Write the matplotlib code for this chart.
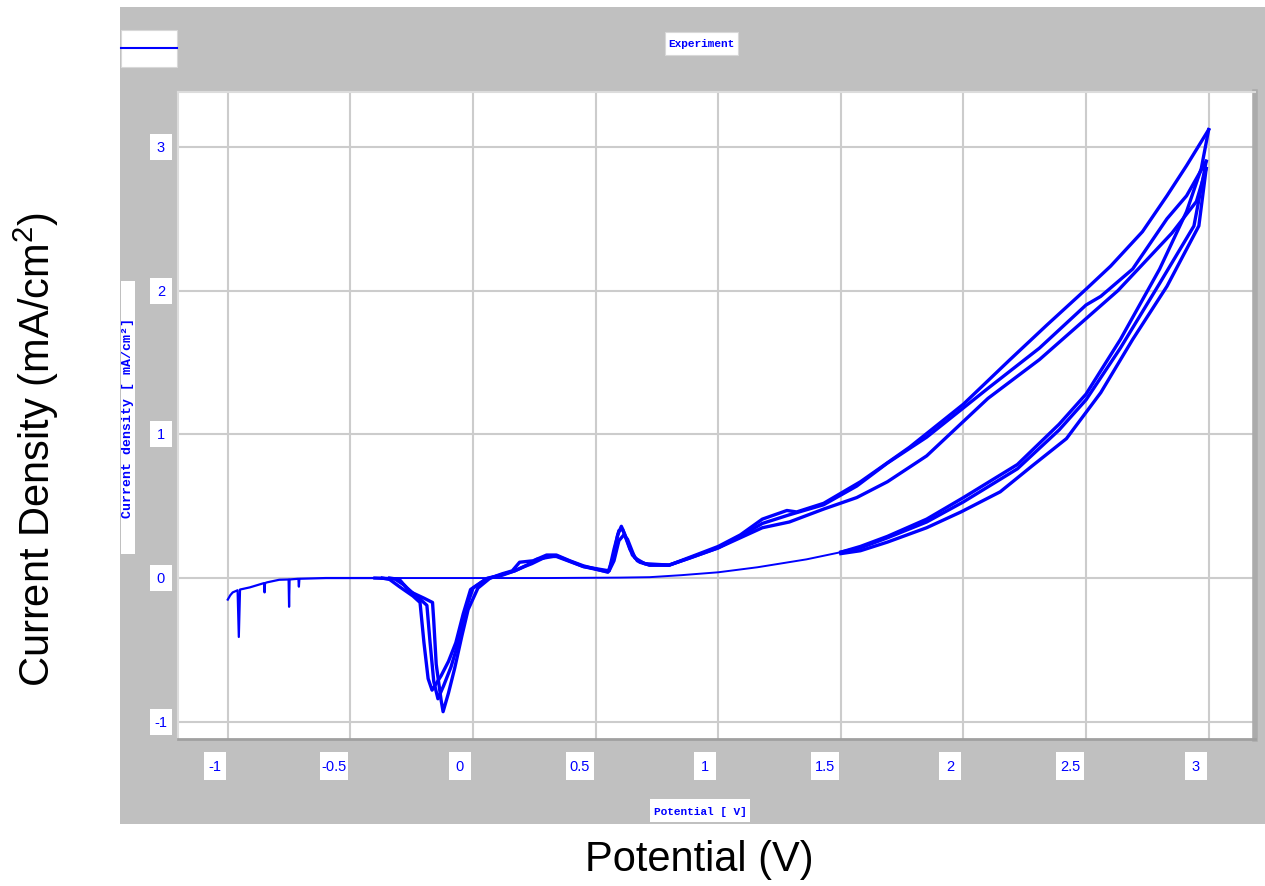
import matplotlib
matplotlib.use("Agg")
import matplotlib.pyplot as plt
from matplotlib.patches import Rectangle

plt.rcParams["mathtext.fontset"] = "custom"
plt.rcParams["mathtext.rm"] = "Liberation Sans"
plt.rcParams["mathtext.default"] = "regular"

# --- data (potential V, current density mA/cm2) ---
x_ticks = [-1, -0.5, 0, 0.5, 1, 1.5, 2, 2.5, 3]
x_labels = ["-1", "-0.5", "0", "0.5", "1", "1.5", "2", "2.5", "3"]
y_ticks = [-1, 0, 1, 2, 3]
y_labels = ["-1", "0", "1", "2", "3"]

# lead-in at the negative end (with the small spikes)
lead_v = [-1.00, -0.99, -0.98, -0.96, -0.955, -0.95, -0.91, -0.852, -0.85, -0.848,
          -0.84, -0.79, -0.752, -0.75, -0.748, -0.712, -0.71, -0.708, -0.60, -0.50, -0.37]
lead_i = [-0.15, -0.12, -0.10, -0.085, -0.41, -0.08, -0.065, -0.035, -0.10, -0.035,
          -0.03, -0.012, -0.01, -0.20, -0.01, -0.005, -0.06, -0.005, 0.0, 0.0, 0.0]

# forward scan, common flat part
fwd_v = [-0.37, 0.30, 0.60, 0.72, 0.85, 1.00, 1.16, 1.36, 1.50]
fwd_i = [0.0, 0.0, 0.003, 0.006, 0.02, 0.04, 0.075, 0.13, 0.18]

# forward scan tails, three cycles
f1_v = [1.50, 1.58, 1.69, 1.85, 2.00, 2.22, 2.39, 2.50, 2.64, 2.80, 2.91, 2.97, 3.00]
f1_i = [0.18, 0.22, 0.29, 0.41, 0.56, 0.79, 1.07, 1.28, 1.66, 2.15, 2.55, 2.85, 3.12]
f2_v = [1.50, 1.58, 1.69, 1.85, 2.00, 2.22, 2.39, 2.50, 2.64, 2.80, 2.94, 2.99]
f2_i = [0.18, 0.21, 0.28, 0.39, 0.53, 0.76, 1.03, 1.24, 1.60, 2.05, 2.45, 2.90]
f3_v = [1.50, 1.58, 1.69, 1.85, 1.99, 2.15, 2.28, 2.42, 2.56, 2.69, 2.83, 2.96, 2.99]
f3_i = [0.17, 0.19, 0.25, 0.35, 0.46, 0.60, 0.78, 0.97, 1.29, 1.66, 2.03, 2.45, 2.85]

# reverse scans, three cycles
c1_v = [3.00, 2.91, 2.83, 2.73, 2.60, 2.50, 2.34, 2.19, 2.00, 1.78, 1.58, 1.43, 1.32,
        1.28, 1.18, 1.09, 1.00, 0.885, 0.80, 0.72, 0.68, 0.65, 0.62, 0.605, 0.59,
        0.57, 0.55, 0.53, 0.45, 0.395, 0.34, 0.30, 0.245, 0.19, 0.16, 0.12, 0.07,
        0.02, -0.02, -0.045, -0.075, -0.10, -0.122, -0.13, -0.15, -0.16, -0.165,
        -0.20, -0.25, -0.28, -0.32, -0.40]
c1_i = [3.12, 2.87, 2.66, 2.41, 2.17, 2.01, 1.76, 1.52, 1.21, 0.91, 0.67, 0.52, 0.46,
        0.47, 0.41, 0.30, 0.22, 0.145, 0.09, 0.09, 0.11, 0.16, 0.30, 0.36, 0.30,
        0.13, 0.04, 0.05, 0.085, 0.12, 0.16, 0.16, 0.12, 0.11, 0.05, 0.03, 0.0,
        -0.07, -0.22, -0.40, -0.63, -0.80, -0.93, -0.85, -0.60, -0.30, -0.17,
        -0.14, -0.10, -0.05, -0.005, 0.0]
c2_v = [2.99, 2.91, 2.83, 2.69, 2.56, 2.50, 2.31, 2.10, 1.85, 1.69, 1.565, 1.43, 1.29,
        1.18, 1.09, 1.00, 0.885, 0.80, 0.72, 0.67, 0.64, 0.61, 0.595, 0.575, 0.555,
        0.53, 0.45, 0.34, 0.30, 0.24, 0.21, 0.17, 0.12, 0.06, 0.00, -0.03, -0.06,
        -0.09, -0.12, -0.143, -0.16, -0.175, -0.188, -0.22, -0.27, -0.30, -0.34]
c2_i = [2.90, 2.66, 2.50, 2.15, 1.96, 1.90, 1.60, 1.32, 0.98, 0.80, 0.64, 0.51, 0.44,
        0.38, 0.29, 0.21, 0.14, 0.09, 0.09, 0.12, 0.20, 0.34, 0.33, 0.20, 0.05,
        0.05, 0.08, 0.15, 0.15, 0.10, 0.08, 0.05, 0.02, 0.0, -0.07, -0.22, -0.45,
        -0.62, -0.75, -0.84, -0.72, -0.45, -0.19, -0.14, -0.07, -0.01, 0.0]
c3_v = [2.99, 2.95, 2.85, 2.63, 2.53, 2.31, 2.10, 1.85, 1.69, 1.565, 1.43, 1.29, 1.18,
        1.09, 1.00, 0.885, 0.80, 0.70, 0.66, 0.63, 0.615, 0.595, 0.575, 0.555, 0.45,
        0.34, 0.26, 0.22, 0.17, 0.11, 0.05, -0.01, -0.04, -0.07, -0.10, -0.13,
        -0.167, -0.183, -0.20, -0.216, -0.245, -0.30, -0.34, -0.37]
c3_i = [2.85, 2.62, 2.40, 2.00, 1.85, 1.52, 1.25, 0.85, 0.67, 0.56, 0.48, 0.39, 0.35,
        0.28, 0.21, 0.14, 0.09, 0.10, 0.14, 0.27, 0.30, 0.26, 0.12, 0.05, 0.08,
        0.155, 0.13, 0.09, 0.05, 0.02, -0.01, -0.08, -0.25, -0.45, -0.58, -0.68,
        -0.78, -0.70, -0.45, -0.17, -0.125, -0.06, -0.01, 0.0]

W, H = 1265, 887
BLUE = "#0000ff"
fig = plt.figure(figsize=(W / 100, H / 100), dpi=100)


def px_box(x0, y0, x1, y1, **kw):
    # rectangle in pixel coords, origin top-left
    fig.patches.append(Rectangle((x0 / W, 1 - y1 / H), (x1 - x0) / W, (y1 - y0) / H,
                                 transform=fig.transFigure, **kw))


def px_text(x, y, s, **kw):
    fig.text(x / W, 1 - y / H, s, ha="center", va="center", **kw)


# gray instrument panel (behind the axes)
px_box(120, 8, 1265, 825, fc="#c0c0c0", ec="none", zorder=-5)

ax = fig.add_axes([178 / W, 1 - 740 / H, (1255 - 178) / W, (740 - 93) / H])
ax.set_zorder(1)
ax.set_xlim(-1.203, 3.189)
ax.set_ylim(-1.12, 3.382)
ax.set_xticks(x_ticks)
ax.set_yticks(y_ticks)
ax.tick_params(length=0, labelbottom=False, labelleft=False)
ax.grid(True, color="#cccccc", lw=1.5)
ax.set_axisbelow(True)
for side in ["top", "left"]:
    ax.spines[side].set_color("#dcdcdc")
    ax.spines[side].set_linewidth(1.5)
ax.spines["bottom"].set_color("#a0a0a0")
ax.spines["bottom"].set_linewidth(2)
ax.spines["right"].set_color("#ababab")
ax.spines["right"].set_linewidth(4)

# curves
ax.plot(lead_v, lead_i, color=BLUE, lw=1.6)
ax.plot(fwd_v, fwd_i, color=BLUE, lw=1.4)
for v, i in [(f1_v, f1_i), (f2_v, f2_i), (f3_v, f3_i)]:
    ax.plot(v, i, color=BLUE, lw=2.4)
for v, i in [(c1_v, c1_i), (c2_v, c2_i), (c3_v, c3_i)]:
    ax.plot(v, i, color=BLUE, lw=2.4)

# tick labels in white boxes, placed through the axes scale
tick_font = dict(color=BLUE, fontsize=10.5, family="Liberation Sans", zorder=5)
for v, lab in zip(x_ticks, x_labels):
    gx = ax.transData.transform((v, 0))[0]
    w = 22 if len(lab) <= 2 else 28
    px_box(gx - 2 - w, 753, gx - 2, 781, fc="white", ec="none", zorder=4)
    px_text(gx - 2 - w / 2, 767, lab, **tick_font)
for v, lab in zip(y_ticks, y_labels):
    gy = H - ax.transData.transform((0, v))[1]
    px_box(150, gy - 13, 172, gy + 13, fc="white", ec="none", zorder=4)
    px_text(161, gy, lab, **tick_font)

# legend swatch and series name
px_box(121, 31, 177, 68, fc="white", ec="#d8d8d8", lw=0.8, zorder=4)
fig.add_artist(plt.Line2D([121 / W, 177 / W], [1 - 49 / H, 1 - 49 / H],
                          color=BLUE, lw=1.5, zorder=5))
px_box(665, 33, 738, 56, fc="white", ec="#d8d8d8", lw=0.8, zorder=4)
px_text(701, 44, "Experiment", color=BLUE, fontsize=8, family="Liberation Mono",
        weight="bold", zorder=5)

# inner axis titles
px_box(121, 282, 135, 555, fc="white", ec="none", zorder=4)
px_text(128, 418, "Current density [ mA/cm²]", color=BLUE, fontsize=9.5,
        family="Liberation Mono", weight="bold", rotation=90, zorder=5)
px_box(650, 800, 750, 823, fc="white", ec="none", zorder=4)
px_text(700, 812, "Potential [ V]", color=BLUE, fontsize=8, family="Liberation Mono",
        weight="bold", zorder=5)

# slide-level axis titles
px_text(699, 860, "Potential (V)", fontsize=30, family="Liberation Sans")
px_text(36, 449, "Current Density (mA/cm$^2$)", fontsize=30, family="Liberation Sans",
        rotation=90)

fig.savefig("out.png", dpi=100)
